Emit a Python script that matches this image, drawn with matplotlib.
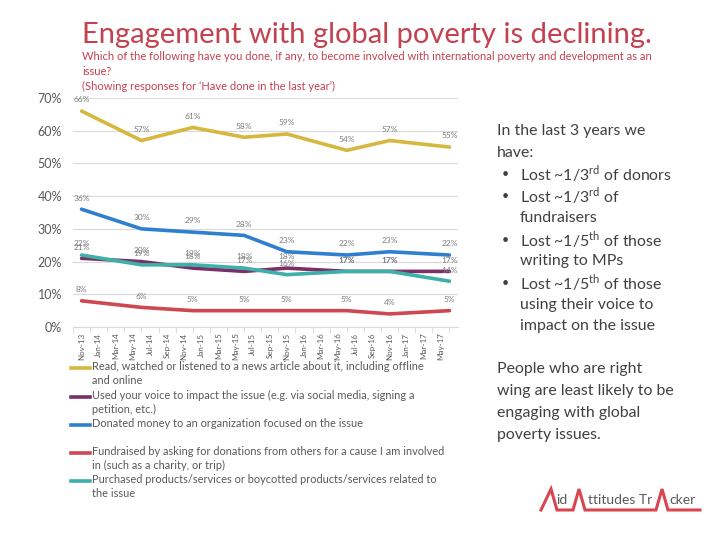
import matplotlib
matplotlib.use("Agg")
import matplotlib.pyplot as plt
from matplotlib.lines import Line2D

plt.rcParams['font.family'] = ['Lato', 'DejaVu Sans']
plt.rcParams['mathtext.fontset'] = 'custom'
plt.rcParams['mathtext.rm'] = 'Lato'

# ---------------- data ----------------
tick_labels = ["Nov-13", "Jan-14", "Mar-14", "May-14", "Jul-14", "Sep-14", "Nov-14",
               "Jan-15", "Mar-15", "May-15", "Jul-15", "Sep-15", "Nov-15", "Jan-16",
               "Mar-16", "May-16", "Jul-16", "Sep-16", "Nov-16", "Jan-17", "Mar-17", "May-17"]
# survey waves, months since Nov-13
wave_months = [0, 7, 13, 19, 24, 31, 36, 43]

read_news = [66, 57, 61, 58, 59, 54, 57, 55]
used_voice = [21, 20, 18, 17, 18, 17, 17, 17]
donated = [36, 30, 29, 28, 23, 22, 23, 22]
fundraised = [8, 6, 5, 5, 5, 5, 4, 5]
purchased = [22, 19, 19, 18, 16, 17, 17, 14]

series_names = [
    "Read, watched or listened to a news article about it, including offline\nand online",
    "Used your voice to impact the issue (e.g. via social media, signing a\npetition, etc.)",
    "Donated money to an organization focused on the issue",
    "Fundraised by asking for donations from others for a cause I am involved\nin (such as a charity, or trip)",
    "Purchased products/services or boycotted products/services related to\nthe issue",
]
series_values = [read_news, used_voice, donated, fundraised, purchased]
colors = ["#D6B83E", "#7A2F68", "#2E7FCF", "#CF4750", "#3DB0A9"]

y_ticks = [0, 10, 20, 30, 40, 50, 60, 70]

title = "Engagement with global poverty is declining."
subtitle = ("Which of the following have you done, if any, to become involved with international poverty and development as an\n"
            "issue?\n(Showing responses for \u2018Have done in the last year\u2019)")

# ---------------- figure ----------------
W, H = 720, 540
fig = plt.figure(figsize=(7.2, 5.4), dpi=100)

def fx(px):
    return px / W

def fy(py):
    return 1 - py / H

ax = fig.add_axes([fx(73), fy(327), fx(458) - fx(73), fy(98) - fy(327)])
ax.set_xlim(-0.8, 44)
ax.set_ylim(0, 70)

for name, vals, c in zip(series_names, series_values, colors):
    ax.plot(wave_months, vals, color=c, lw=2.6, solid_capstyle='round', zorder=3)
    for xm, v in zip(wave_months, vals):
        ax.annotate(f"{v}%", (xm, v), xytext=(0, 5.5), textcoords='offset points',
                    ha='center', va='bottom', fontsize=6, color='#7F7F7F',
                    annotation_clip=False, zorder=4)

ax.set_yticks(y_ticks)
ax.set_yticklabels([f"{t}%" for t in y_ticks], fontsize=9, color='#595959')
ax.tick_params(axis='y', length=0, pad=8)
ax.grid(axis='y', color='#D9D9D9', lw=0.8, zorder=0)

ax.set_xticks(range(0, 2 * len(tick_labels), 2))
ax.set_xticklabels(tick_labels, rotation=90, fontsize=5.8, color='#595959')
ax.set_xticks([m - 1 for m in range(0, 2 * len(tick_labels) + 1, 2)], minor=True)
ax.tick_params(axis='x', which='major', length=0, pad=4)
ax.tick_params(axis='x', which='minor', length=4, color='#D9D9D9')

for s in ['top', 'right', 'left']:
    ax.spines[s].set_visible(False)
ax.spines['bottom'].set_color('#D9D9D9')

# title and subtitle
fig.text(fx(82), fy(35), title, fontsize=21, color='#C4414F', va='center', ha='left')
fig.text(fx(82), fy(51), subtitle, fontsize=8.0, color='#C4414F', va='top', ha='left',
         linespacing=1.45)

# legend (drawn manually to align swatches with first text line)
legend_rows = [368, 397, 425, 453, 481]
for name, c, ypx in zip(series_names, colors, legend_rows):
    fig.add_artist(Line2D([fx(71), fx(90)], [fy(ypx), fy(ypx)], color=c, lw=2.6,
                          transform=fig.transFigure))
    fig.text(fx(92), fy(ypx - 7), name, fontsize=7.9, color='#595959', va='top', ha='left',
             linespacing=1.35)

# right-hand commentary
tc = '#404040'
fs = 11.4
lines = [
    (497, 131, False, "In the last 3 years we"),
    (497, 153, False, "have:"),
    (520, 174, True, r"Lost ~1/3$^{\mathrm{rd}}$ of donors"),
    (520, 196, True, r"Lost ~1/3$^{\mathrm{rd}}$ of"),
    (520, 218, False, "fundraisers"),
    (520, 240, True, r"Lost ~1/5$^{\mathrm{th}}$ of those"),
    (520, 261, False, "writing to MPs"),
    (520, 283, True, r"Lost ~1/5$^{\mathrm{th}}$ of those"),
    (520, 305, False, "using their voice to"),
    (520, 326, False, "impact on the issue"),
]
for xp, yp, bullet, txt in lines:
    if bullet:
        fig.text(fx(502), fy(yp), "\u2022", fontsize=9, color=tc, va='center', ha='left')
    fig.text(fx(xp), fy(yp), txt, fontsize=fs, color=tc, va='center', ha='left')

for i, txt in enumerate(["People who are right", "wing are least likely to be",
                         "engaging with global", "poverty issues."]):
    fig.text(fx(497), fy(369 + 22 * i), txt, fontsize=fs, color=tc, va='center', ha='left')

# logo
logo_x = [541, 551, 557, 573, 579, 585, 656, 662, 668, 700]
logo_y = [510, 489, 510, 510, 489, 510, 510, 489, 510, 510]
fig.add_artist(Line2D([fx(v) for v in logo_x], [fy(v) for v in logo_y], color='#D9464F',
                      lw=2.2, transform=fig.transFigure, solid_joinstyle='miter'))
fig.text(fx(556), fy(500), "id", fontsize=10, color='#595959', va='center', ha='left')
fig.text(fx(588), fy(500), "ttitudes Tr", fontsize=10, color='#595959', va='center', ha='left')
fig.text(fx(669), fy(500), "cker", fontsize=10, color='#595959', va='center', ha='left')

fig.savefig("out.png", dpi=100)
